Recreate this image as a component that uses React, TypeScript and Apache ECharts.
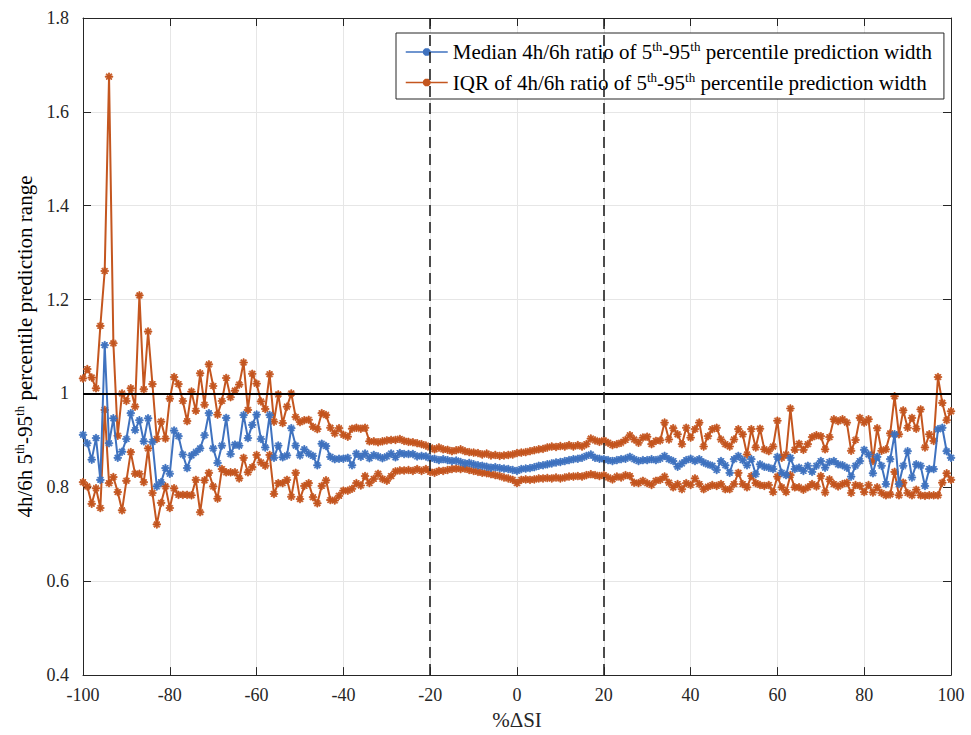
import React, { useEffect, useRef } from "react";
import * as echarts from "echarts";

// x runs from -100 to 100 in steps of 1 (%ΔSI)
const X_START = -100;
const X_STEP = 1;

const X_TICKS = [-100, -80, -60, -40, -20, 0, 20, 40, 60, 80, 100];
const Y_TICKS = [0.4, 0.6, 0.8, 1, 1.2, 1.4, 1.6, 1.8];
const V_LINES = [-20, 20];
const H_LINE = 1;

// Median 4h/6h ratio of 5th-95th percentile prediction width
const median = [
  // -100 .. -60
  0.912, 0.894, 0.859, 0.905, 0.816, 1.103, 0.894, 0.947, 0.863, 0.876,
  0.903, 0.958, 0.922, 0.943, 0.898, 0.947, 0.897, 0.802, 0.811, 0.841,
  0.829, 0.921, 0.909, 0.870, 0.841, 0.868, 0.875, 0.883, 0.911, 0.958,
  0.883, 0.852, 0.889, 0.948, 0.871, 0.891, 0.889, 0.954, 0.905, 0.933,
  0.955,
  // -59 .. -21
  0.903, 0.885, 0.954, 0.863, 0.889, 0.864, 0.868, 0.926, 0.889, 0.868,
  0.881, 0.872, 0.867, 0.847, 0.893, 0.888, 0.865, 0.860, 0.861, 0.861,
  0.863, 0.847, 0.872, 0.865, 0.872, 0.862, 0.869, 0.866, 0.862, 0.866,
  0.872, 0.864, 0.873, 0.871, 0.871, 0.871, 0.866, 0.867, 0.866,
  // -20 .. 20
  0.862, 0.861, 0.858, 0.860, 0.858, 0.856, 0.857, 0.854, 0.851, 0.852,
  0.849, 0.847, 0.846, 0.844, 0.842, 0.843, 0.841, 0.840, 0.839, 0.837,
  0.835, 0.839, 0.840, 0.841, 0.843, 0.846, 0.847, 0.849, 0.851, 0.853,
  0.854, 0.856, 0.858, 0.860, 0.861, 0.863, 0.867, 0.870, 0.863, 0.861,
  0.860,
  // 21 .. 60
  0.858, 0.856, 0.858, 0.860, 0.861, 0.865, 0.860, 0.856, 0.858, 0.858,
  0.860, 0.858, 0.861, 0.867, 0.860, 0.856, 0.844, 0.851, 0.858, 0.861,
  0.856, 0.860, 0.853, 0.849, 0.846, 0.837, 0.856, 0.847, 0.831, 0.860,
  0.867, 0.858, 0.847, 0.860, 0.828, 0.849, 0.844, 0.842, 0.839, 0.865,
  // 61 .. 100
  0.831, 0.826, 0.863, 0.839, 0.842, 0.835, 0.846, 0.833, 0.846, 0.856,
  0.842, 0.854, 0.856, 0.849, 0.847, 0.842, 0.823, 0.846, 0.856, 0.880,
  0.870, 0.830, 0.865, 0.846, 0.807, 0.860, 0.913, 0.807, 0.846, 0.877,
  0.821, 0.849, 0.846, 0.803, 0.839, 0.839, 0.924, 0.927, 0.877, 0.863,
];

// IQR: upper quartile line
const iqrUpper = [
  // -100 .. -60
  1.032, 1.052, 1.034, 1.011, 1.144, 1.261, 1.675, 1.107, 0.910, 1.000,
  0.984, 1.011, 0.972, 1.209, 1.009, 1.132, 1.020, 0.903, 0.940, 0.904,
  0.989, 1.035, 1.020, 0.984, 0.941, 1.004, 0.963, 1.043, 0.976, 1.062,
  1.016, 0.955, 0.984, 1.033, 0.992, 1.006, 1.019, 1.066, 0.965, 1.042,
  1.021,
  // -59 .. -21
  0.983, 0.967, 1.041, 0.940, 0.998, 0.937, 0.972, 1.000, 0.950, 0.939,
  0.943, 0.944, 0.929, 0.924, 0.958, 0.954, 0.927, 0.915, 0.926, 0.912,
  0.908, 0.925, 0.927, 0.925, 0.927, 0.898, 0.898, 0.896, 0.898, 0.900,
  0.901, 0.901, 0.903, 0.899, 0.897, 0.896, 0.894, 0.892, 0.889,
  // -20 .. 20
  0.885, 0.881, 0.885, 0.881, 0.880, 0.877, 0.879, 0.881, 0.877, 0.875,
  0.874, 0.873, 0.870, 0.872, 0.868, 0.869, 0.867, 0.868, 0.869, 0.870,
  0.873, 0.874, 0.875, 0.877, 0.879, 0.881, 0.882, 0.885, 0.887, 0.886,
  0.888, 0.887, 0.890, 0.887, 0.890, 0.887, 0.892, 0.904, 0.900, 0.897,
  0.900,
  // 21 .. 60
  0.895, 0.890, 0.892, 0.895, 0.901, 0.911, 0.902, 0.895, 0.906, 0.908,
  0.892, 0.899, 0.900, 0.938, 0.902, 0.926, 0.913, 0.892, 0.927, 0.906,
  0.924, 0.938, 0.887, 0.909, 0.924, 0.927, 0.902, 0.892, 0.887, 0.902,
  0.924, 0.913, 0.870, 0.924, 0.885, 0.925, 0.881, 0.877, 0.887, 0.942,
  // 61 .. 100
  0.863, 0.870, 0.968, 0.880, 0.893, 0.880, 0.892, 0.907, 0.911, 0.909,
  0.881, 0.907, 0.945, 0.941, 0.945, 0.938, 0.878, 0.901, 0.948, 0.938,
  0.945, 0.856, 0.926, 0.878, 0.881, 0.915, 0.994, 0.913, 0.964, 0.927,
  0.948, 0.925, 0.966, 0.885, 0.913, 0.899, 1.035, 0.980, 0.943, 0.962,
];

// IQR: lower quartile line
const iqrLower = [
  // -100 .. -60
  0.811, 0.802, 0.765, 0.798, 0.756, 0.965, 0.809, 0.822, 0.790, 0.751,
  0.814, 0.875, 0.829, 0.829, 0.811, 0.883, 0.788, 0.721, 0.767, 0.802,
  0.756, 0.798, 0.784, 0.784, 0.784, 0.783, 0.816, 0.747, 0.815, 0.831,
  0.802, 0.776, 0.839, 0.832, 0.832, 0.832, 0.819, 0.863, 0.832, 0.843,
  0.869,
  // -59 .. -21
  0.853, 0.846, 0.869, 0.786, 0.809, 0.809, 0.816, 0.780, 0.831, 0.775,
  0.803, 0.809, 0.779, 0.766, 0.803, 0.815, 0.773, 0.772, 0.782, 0.793,
  0.793, 0.797, 0.809, 0.804, 0.824, 0.809, 0.818, 0.829, 0.818, 0.814,
  0.824, 0.834, 0.836, 0.836, 0.837, 0.835, 0.839, 0.835, 0.839,
  // -20 .. 20
  0.833, 0.831, 0.835, 0.835, 0.837, 0.839, 0.840, 0.839, 0.840, 0.837,
  0.835, 0.833, 0.831, 0.830, 0.828, 0.826, 0.824, 0.821, 0.819, 0.816,
  0.809, 0.816, 0.817, 0.816, 0.817, 0.819, 0.819, 0.820, 0.819, 0.821,
  0.819, 0.821, 0.823, 0.823, 0.824, 0.823, 0.826, 0.828, 0.826, 0.824,
  0.826,
  // 21 .. 60
  0.821, 0.817, 0.823, 0.821, 0.826, 0.824, 0.810, 0.809, 0.814, 0.809,
  0.805, 0.814, 0.816, 0.823, 0.810, 0.800, 0.807, 0.796, 0.809, 0.805,
  0.819, 0.807, 0.796, 0.801, 0.805, 0.803, 0.807, 0.796, 0.796, 0.807,
  0.831, 0.807, 0.800, 0.824, 0.809, 0.805, 0.803, 0.805, 0.790, 0.823,
  // 61 .. 100
  0.800, 0.790, 0.826, 0.800, 0.800, 0.795, 0.800, 0.807, 0.802, 0.824,
  0.789, 0.817, 0.807, 0.802, 0.807, 0.810, 0.788, 0.805, 0.803, 0.790,
  0.805, 0.789, 0.800, 0.788, 0.783, 0.785, 0.833, 0.783, 0.810, 0.788,
  0.783, 0.795, 0.783, 0.782, 0.783, 0.783, 0.783, 0.810, 0.830, 0.816,
];

const MEDIAN_NAME = "median";
const IQR_NAME = "iqr";
const LEGEND_TEXT: Record<string, string> = {
  median: "{a|Median 4h/6h ratio of 5}{s|th}{a|-95}{s|th}{a| percentile prediction width}",
  iqr: "{a|IQR of 4h/6h ratio of 5}{s|th}{a|-95}{s|th}{a| percentile prediction width}",
};
const Y_NAME = "{a|4h/6h 5}{s|th}{a|-95}{s|th}{a| percentile prediction range}";
const X_NAME = "%ΔSI";

const BLUE = "#3F72BF";
const ORANGE = "#C4561F";
const AXIS = "#262626";
const FONT = "Liberation Serif";

const STAR =
  "path://M-5,-0.8L5,-0.8L5,0.8L-5,0.8ZM-0.8,-5L0.8,-5L0.8,5L-0.8,5ZM-4.1,-3L-3,-4.1L4.1,3L3,4.1ZM3,-4.1L4.1,-3L-3,4.1L-4.1,3Z";

const toPairs = (arr: number[]) => arr.map((v, i) => [X_START + i * X_STEP, v]);

export default function App() {
  const ref = useRef<HTMLDivElement>(null);

  useEffect(() => {
    if (!ref.current) return;
    const chart = echarts.init(ref.current, undefined, { renderer: "svg" });

    const richLegend = {
      a: { fontFamily: FONT, fontSize: 21, color: "#000", lineHeight: 24, verticalAlign: "middle" },
      s: { fontFamily: FONT, fontSize: 13, color: "#000", lineHeight: 13, verticalAlign: "top" },
    };
    const richName = {
      a: { fontFamily: FONT, fontSize: 21, color: "#000", lineHeight: 24, verticalAlign: "middle" },
      s: { fontFamily: FONT, fontSize: 13, color: "#000", lineHeight: 13, verticalAlign: "top" },
    };

    const lineSeries = (name: string, data: number[], color: string, z: number) => ({
      type: "line",
      name,
      data: toPairs(data),
      xAxisIndex: 0,
      yAxisIndex: 0,
      symbol: STAR,
      symbolSize: 7.5,
      showSymbol: true,
      lineStyle: { color, width: 2 },
      itemStyle: { color, borderColor: color, borderWidth: 0.8 },
      z,
    });

    const option: any = {
      animation: false,
      backgroundColor: "#ffffff",
      textStyle: { fontFamily: FONT },
      grid: { left: 83, right: 20, top: 18, bottom: 58, containLabel: false },
      legend: {
        data: [MEDIAN_NAME, IQR_NAME],
        orient: "vertical",
        left: 396,
        top: 33,
        padding: [7, 12, 6, 9],
        itemGap: 8,
        itemWidth: 42,
        itemHeight: 7,
        backgroundColor: "#ffffff",
        borderColor: AXIS,
        borderWidth: 1,
        borderRadius: 0,
        lineStyle: { width: 1.5 },
        formatter: (n: string) => LEGEND_TEXT[n],
        textStyle: { fontFamily: FONT, fontSize: 21, color: "#000", rich: richLegend },
      },
      xAxis: [
        {
          type: "value",
          min: X_TICKS[0],
          max: X_TICKS[X_TICKS.length - 1],
          interval: 20,
          name: X_NAME,
          nameLocation: "middle",
          nameGap: 31,
          nameTextStyle: { fontFamily: FONT, fontSize: 21, color: AXIS },
          axisLine: { show: true, onZero: false, lineStyle: { color: AXIS, width: 1 } },
          axisTick: { show: true, inside: true, length: 8, lineStyle: { color: AXIS } },
          axisLabel: { fontFamily: FONT, fontSize: 18, color: AXIS, margin: 11 },
          splitLine: { show: true, lineStyle: { color: "#e6e6e6", width: 1 } },
        },
        {
          type: "value",
          position: "top",
          min: X_TICKS[0],
          max: X_TICKS[X_TICKS.length - 1],
          interval: 20,
          axisLine: { show: true, onZero: false, lineStyle: { color: AXIS, width: 1 } },
          axisTick: { show: true, inside: true, length: 8, lineStyle: { color: AXIS } },
          axisLabel: { show: false },
          splitLine: { show: false },
        },
      ],
      yAxis: [
        {
          type: "value",
          min: Y_TICKS[0],
          max: Y_TICKS[Y_TICKS.length - 1],
          interval: 0.2,
          name: Y_NAME,
          nameLocation: "middle",
          nameRotate: 90,
          nameGap: 38,
          nameTextStyle: { fontFamily: FONT, fontSize: 21, color: "#000", rich: richName },
          axisLine: { show: true, onZero: false, lineStyle: { color: AXIS, width: 1 } },
          axisTick: { show: true, inside: true, length: 8, lineStyle: { color: AXIS } },
          axisLabel: { fontFamily: FONT, fontSize: 18, color: AXIS, margin: 14 },
          splitLine: { show: true, lineStyle: { color: "#e6e6e6", width: 1 } },
        },
        {
          type: "value",
          position: "right",
          min: Y_TICKS[0],
          max: Y_TICKS[Y_TICKS.length - 1],
          interval: 0.2,
          axisLine: { show: true, onZero: false, lineStyle: { color: AXIS, width: 1 } },
          axisTick: { show: true, inside: true, length: 8, lineStyle: { color: AXIS } },
          axisLabel: { show: false },
          splitLine: { show: false },
        },
      ],
      series: [
        {
          ...lineSeries(MEDIAN_NAME, median, BLUE, 3),
          markLine: {
            silent: true,
            symbol: ["none", "none"],
            label: { show: false },
            z: 5,
            data: [
              { yAxis: H_LINE, lineStyle: { color: "#000", width: 2, type: "solid" } },
              ...V_LINES.map((v) => ({
                xAxis: v,
                lineStyle: { color: "#222", width: 1.6, type: [11, 6] },
              })),
            ],
          },
        },
        lineSeries(IQR_NAME, iqrUpper, ORANGE, 2),
        lineSeries(IQR_NAME, iqrLower, ORANGE, 2),
      ],
    };

    chart.setOption(option);
    return () => chart.dispose();
  }, []);

  return (
    <div
      ref={ref}
      style={{ position: "absolute", left: 0, top: 0, width: 971, height: 735, background: "#fff" }}
    />
  );
}
